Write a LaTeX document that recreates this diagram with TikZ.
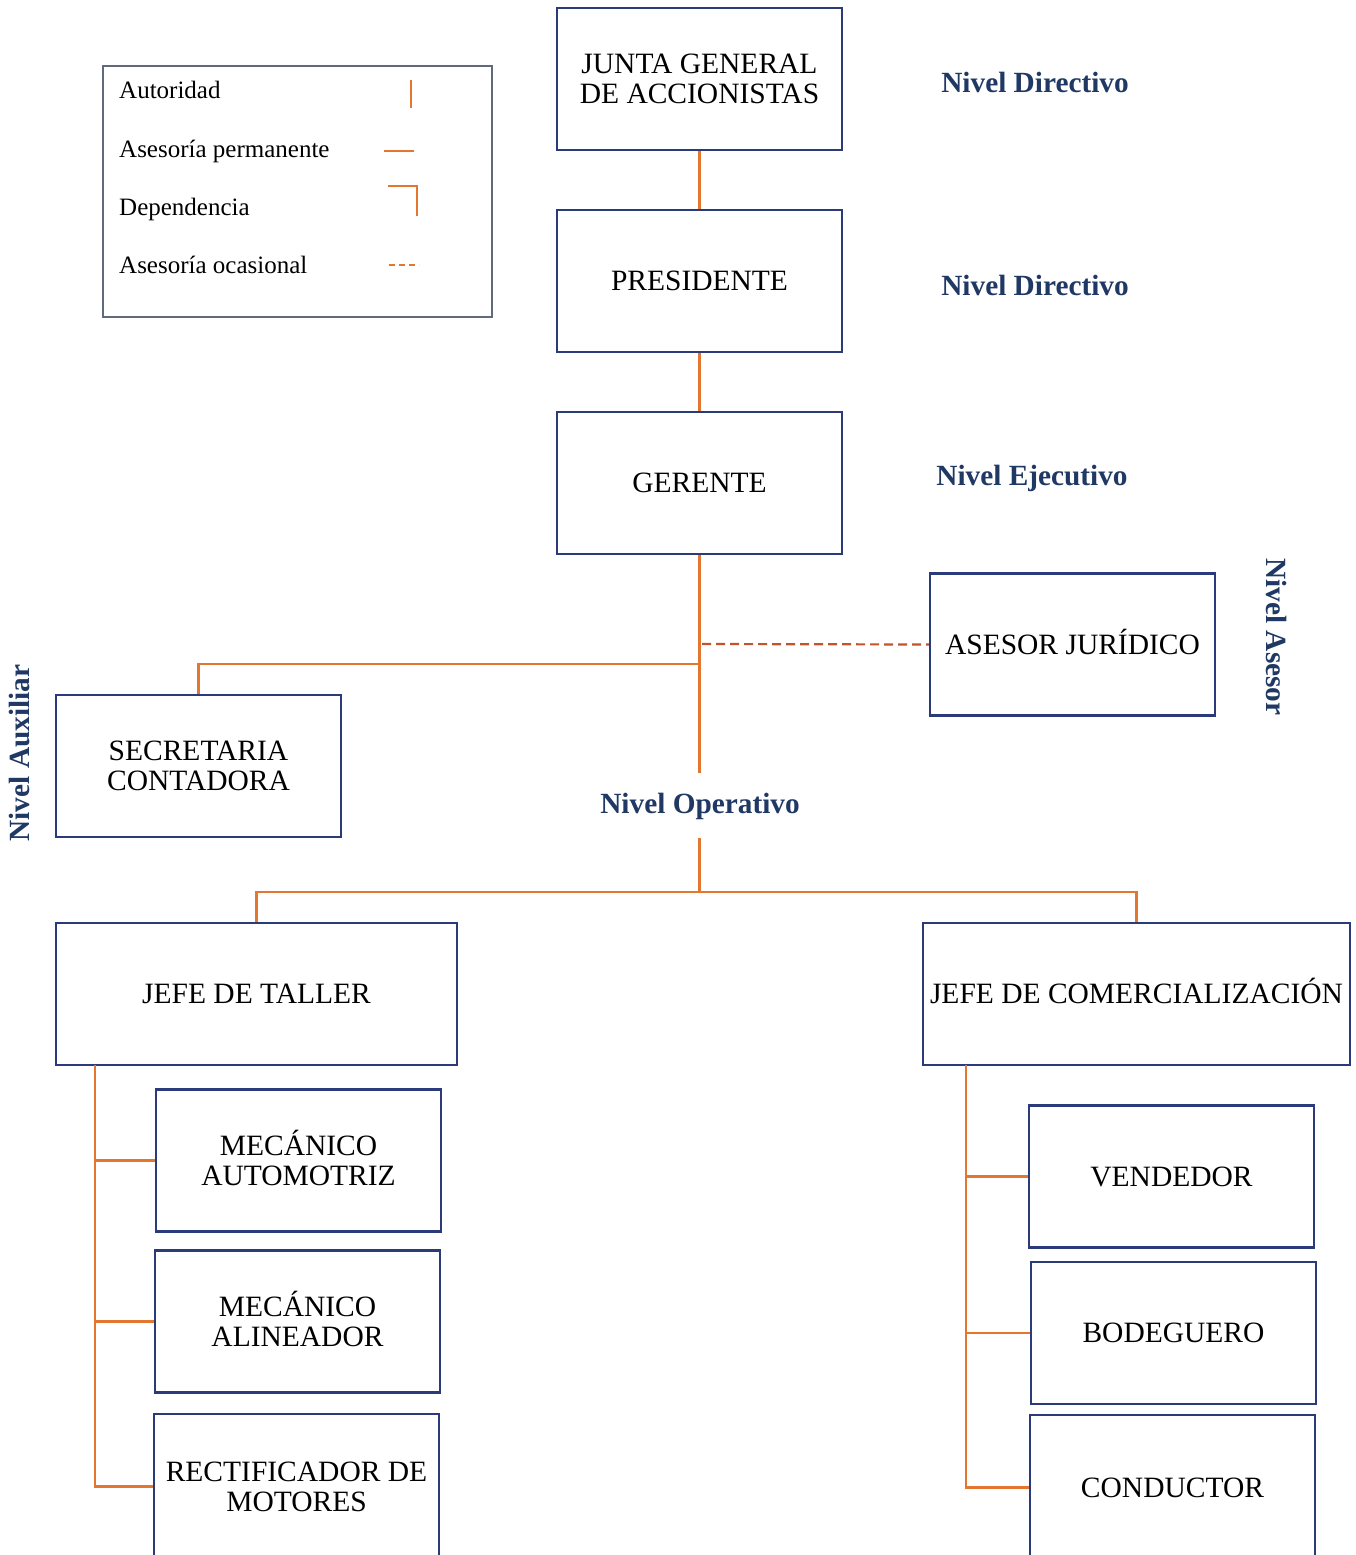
\documentclass[tikz,border=0pt]{standalone}
\usepackage{fontspec}
\setmainfont{Liberation Serif}
\definecolor{boxline}{HTML}{2B3A78}
\definecolor{link}{HTML}{E4772F}
\definecolor{advice}{HTML}{C0552A}
\definecolor{levelblue}{HTML}{1F3864}
\definecolor{legendline}{HTML}{5F6B7D}
% keep accented capitals from pushing a line down
\newcommand\capfix[1]{\smash{#1}\vphantom{M}}
\begin{document}
\begin{tikzpicture}[x=1pt,y=-1pt,
  orgbox/.style={draw=boxline,line width=2.5pt,fill=white,minimum width=285pt,minimum height=142pt,
    align=center,inner sep=0pt,font=\fontsize{29.5}{30}\selectfont},
  wire/.style={draw=link,line width=2.4pt},
  occasional/.style={draw=advice,line width=2.2pt,dash pattern=on 9pt off 5pt},
  level/.style={text=levelblue,font=\fontsize{29.3}{30}\selectfont\bfseries,inner sep=0pt},
  legtext/.style={anchor=base west,inner sep=0pt,font=\fontsize{25}{26}\selectfont}]
\useasboundingbox (0,0) rectangle (1355,1555);
\clip (0,0) rectangle (1355,1555);

% legend
\node[draw=legendline,line width=2pt,minimum width=389pt,minimum height=251pt,inner sep=0pt] (legend) at (297.5,191.5) {};
\node[legtext] (lg1) at (119,99) {Autoridad};
\node[legtext] (lg2) at (119,157) {Asesoría permanente};
\node[legtext] (lg3) at (119,215) {Dependencia};
\node[legtext] (lg4) at (119,273) {Asesoría ocasional};
\draw[wire,line width=2pt] (411,80) -- (411,108);
\draw[wire,line width=2pt] (384,151) -- (414,151);
\draw[wire,line width=2pt] (388,186) -- (417,186) -- (417,216);
\draw[draw=link,line width=1.2pt,dash pattern=on 6pt off 4pt] (389,265) -- (419,265);

% management chain
\node[orgbox] (junta) at (699.5,79) {JUNTA GENERAL\\DE ACCIONISTAS};
\node[orgbox] (pres) at (699.5,281) {PRESIDENTE};
\node[orgbox] (ger) at (699.5,483) {GERENTE};
\node[orgbox] (asesor) at (1072.5,644.5) {\capfix{ASESOR JURÍDICO}};
\node[orgbox] (secre) at (198.5,766) {SECRETARIA\\CONTADORA};

% operational level
\node[orgbox,minimum width=401pt] (taller) at (256.5,994) {JEFE DE TALLER};
\node[orgbox,minimum width=427pt] (comer) at (1136.5,994) {\capfix{JEFE DE COMERCIALIZACIÓN}};
\node[orgbox] (mauto) at (298.5,1160.5) {\capfix{MECÁNICO}\\AUTOMOTRIZ};
\node[orgbox] (malin) at (297.5,1321.5) {\capfix{MECÁNICO}\\ALINEADOR};
\node[orgbox,minimum height=145pt] (rect) at (296.5,1486.5) {RECTIFICADOR DE\\MOTORES};
\node[orgbox] (vend) at (1171.5,1176.5) {VENDEDOR};
\node[orgbox] (bode) at (1173.5,1333) {BODEGUERO};
\node[orgbox,minimum height=145pt] (cond) at (1172.5,1487.5) {CONDUCTOR};

% level labels
\node[level] (l1) at (1035,82) {Nivel Directivo};
\node[level] (l2) at (1035,285) {Nivel Directivo};
\node[level] (l3) at (1032,478) {Nivel Ejecutivo};
\node[level] (l4) at (700,806) {Nivel Operativo};
\node[level,rotate=90] (l5) at (20,753) {Nivel Auxiliar};
\node[level,rotate=-90] (l6) at (1277,637) {Nivel Asesor};

% connectors
\coordinate (auxjoin) at (699.5,664);
\coordinate (advjoin) at (702,644);
\coordinate (gapTop) at (699.5,773);
\coordinate (gapBot) at (699.5,838);
\coordinate (opjoin) at (699.5,892);
\coordinate (tallerTrunk) at (95,1065);
\coordinate (comerTrunk) at (966,1065);

\draw[wire] (junta.south) -- (pres.north);
\draw[wire] (pres.south) -- (ger.north);
\draw[wire] (ger.south) -- (gapTop);
\draw[wire] (auxjoin) -| (secre.north);
\draw[occasional] (advjoin) -- (asesor.west);
\draw[wire] (gapBot) -- (opjoin);
\draw[wire] (opjoin) -| (taller.north);
\draw[wire] (opjoin) -| (comer.north);

\draw[wire] (tallerTrunk) |- (rect.west);
\draw[wire] (tallerTrunk |- mauto.west) -- (mauto.west);
\draw[wire] (tallerTrunk |- malin.west) -- (malin.west);
\draw[wire] (comerTrunk) |- (cond.west);
\draw[wire] (comerTrunk |- vend.west) -- (vend.west);
\draw[wire] (comerTrunk |- bode.west) -- (bode.west);
\end{tikzpicture}
\end{document}
